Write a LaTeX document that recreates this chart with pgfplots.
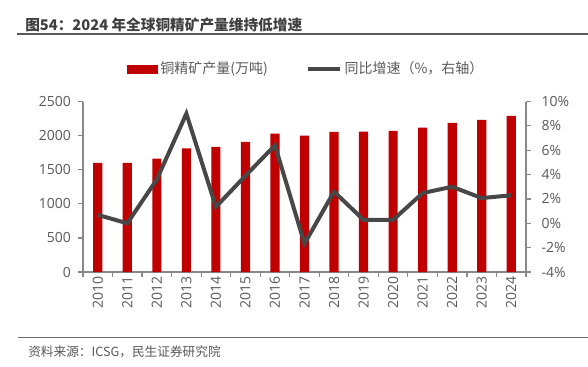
\documentclass[border=0pt]{standalone}
\usepackage{fontspec}
\setmainfont{Noto Sans CJK SC}
\newfontfamily\tickfont{Open Sans}
\usepackage{pgfplots}
\usepackage{pgfplotstable}
\pgfplotsset{compat=1.18}
\definecolor{barred}{HTML}{C00000}
\definecolor{linegray}{HTML}{474747}
\definecolor{axgray}{HTML}{898989}
\definecolor{txtgray}{HTML}{595959}
\definecolor{titlegray}{HTML}{3F3F3F}

\pgfplotstableread{
x prod growth
0 1600 0.69
1 1600 0.00
2 1661 3.60
3 1813 9.00
4 1833 1.35
5 1907 3.90
6 2029 6.40
7 2000 -1.67
8 2054 2.60
9 2057 0.28
10 2068 0.28
11 2117 2.48
12 2186 3.00
13 2230 2.07
14 2289 2.30
}\data

\begin{document}
\begin{tikzpicture}[x=0.75pt,y=-0.75pt]
\useasboundingbox (0,0) rectangle (588,367);
\node[anchor=west, inner sep=0pt, text=titlegray, font=\fontsize{11}{13}\selectfont\bfseries] at (25,25) {图54：2024 年全球铜精矿产量维持低增速};
\draw[txtgray, line width=1.5pt] (17,34) -- (588,34);
\draw[txtgray!90, line width=1.2pt] (18,337.3) -- (588,337.3);
\node[anchor=west, inner sep=0pt, text=txtgray, font=\fontsize{9.5}{11}\selectfont] at (28,352) {资料来源：ICSG，民生证券研究院};

\pgfplotsset{common/.style={
  width=332.25pt, height=127.875pt, scale only axis,
  at={(62.25pt,-204pt)}, anchor=south west,
  xmin=-0.5, xmax=14.5,
  axis line style={axgray, line width=0.9pt},
  tick style={axgray, line width=0.9pt},
  tick align=outside, major tick length=3.6pt,
  /pgf/number format/assume math mode=true,
  tick label style={font=\tickfont\fontsize{10.5}{12}\selectfont, text=txtgray},
}}

\begin{axis}[common,
  axis x line*=bottom, axis y line*=left,
  ymin=0, ymax=2500, ytick={0,500,...,2500},
  xtick={-0.5,0.5,...,14.5}, xticklabels={,,,,,,,,,,,,,,,},
  extra x ticks={0,1,...,14},
  extra x tick labels={2010,2011,2012,2013,2014,2015,2016,2017,2018,2019,2020,2021,2022,2023,2024},
  extra x tick style={major tick length=0pt, tick label style={rotate=90, anchor=east}},
  yticklabel style={/pgf/number format/1000 sep={}, xshift=-2pt},
]
\addplot[ybar, bar width=0.31, fill=barred, draw=none] table[x=x,y=prod]{\data};
\end{axis}

\begin{axis}[common,
  axis y line*=right, axis x line=none, xtick=\empty,
  ymin=-4, ymax=10, ytick={-4,-2,...,10},
  yticklabel={\pgfmathprintnumber{\tick}\%},
  yticklabel style={xshift=4.5pt},
  legend columns=2,
  legend style={at={(0.0993,1.1906)}, anchor=west, draw=none, fill=none, inner sep=0pt,
    font=\fontsize{10.5}{12}\selectfont, text=txtgray,
    /tikz/every even column/.append style={column sep=27pt}},
]
\addlegendimage{legend image code/.code={\fill[barred] (0pt,-3.1pt) rectangle (22.5pt,3.1pt);}}
\addlegendentry{铜精矿产量(万吨)}
\addplot[linegray, line width=3pt, mark=none,
  legend image code/.code={\draw[linegray, line width=2.5pt] (0pt,0pt) -- (24pt,0pt);}]
  table[x=x,y=growth]{\data};
\addlegendentry{同比增速（\%，右轴）}
\end{axis}
\end{tikzpicture}
\end{document}
